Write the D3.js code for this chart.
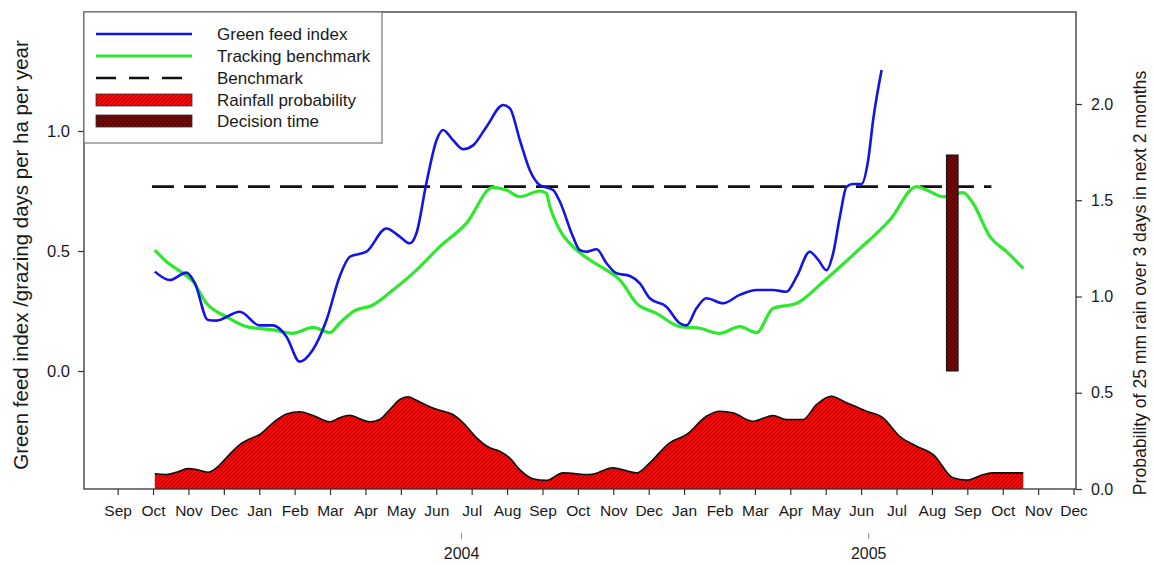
<!DOCTYPE html>
<html><head><meta charset="utf-8">
<script src="https://cdn.jsdelivr.net/npm/d3@7"></script>
<style>
body{margin:0;background:#fff}
svg{display:block}
text{font-family:"Liberation Sans",Arial,Helvetica,sans-serif;fill:#1a1a1a}
</style>
</head><body>
<svg id="chart" width="1154" height="565"></svg>
<script>
// ---- data (x = months since Sep 2003) ----
const monthLabels = ["Sep","Oct","Nov","Dec","Jan","Feb","Mar","Apr","May","Jun","Jul","Aug",
  "Sep","Oct","Nov","Dec","Jan","Feb","Mar","Apr","May","Jun","Jul","Aug","Sep","Oct","Nov","Dec"];
const yearLabels = ["2004","2005"];
const yearPos = [9.7, 21.2];
const leftTicks = [0.0, 0.5, 1.0];
const rightTicks = [0.0, 0.5, 1.0, 1.5, 2.0];

const greenFeedT = [1.05,1.47,1.94,2.18,2.55,2.79,3.45,4.01,4.39,4.77,5.14,5.51,5.90,6.27,6.56,7.03,7.59,7.97,8.25,8.44,8.72,9.01,9.19,9.47,9.76,10.04,10.42,10.89,11.08,11.36,11.64,11.92,12.30,12.49,12.86,13.05,13.24,13.53,13.81,14.09,14.47,14.75,15.03,15.50,15.88,16.07,16.35,16.63,17.10,17.57,18.05,18.51,18.89,19.18,19.55,19.79,20.02,20.21,20.40,20.59,20.77,21.01,21.20,21.34,21.58];
const greenFeedV = [0.414,0.379,0.41,0.367,0.2125,0.21,0.247,0.19,0.19,0.143,0.039,0.0875,0.2125,0.393,0.476,0.497,0.594,0.56,0.532,0.574,0.782,0.9625,1.004,0.9625,0.924,0.94,1.018,1.108,1.094,0.9625,0.8375,0.775,0.754,0.706,0.56,0.504,0.497,0.507,0.449,0.407,0.396,0.365,0.303,0.268,0.199,0.19,0.261,0.303,0.282,0.317,0.3375,0.3375,0.33,0.393,0.497,0.4625,0.42,0.49,0.643,0.768,0.779,0.779,0.879,1.046,1.254];

const trackingT = [1.05,1.38,1.85,2.13,2.51,3.07,3.64,4.39,4.95,5.52,5.99,6.27,6.65,7.21,7.78,8.44,9.10,9.85,10.60,10.98,11.36,11.92,12.11,12.21,12.49,12.86,13.34,13.81,14.19,14.66,15.22,15.88,16.44,17.01,17.57,18.05,18.51,19.18,19.93,20.87,21.81,22.57,22.85,23.32,23.88,24.16,24.64,25.11,25.58];
const trackingV = [0.504,0.455,0.407,0.372,0.282,0.226,0.185,0.171,0.157,0.182,0.16,0.199,0.247,0.275,0.3375,0.42,0.518,0.615,0.765,0.754,0.726,0.75,0.74,0.685,0.5875,0.518,0.4625,0.42,0.379,0.282,0.24,0.185,0.178,0.157,0.185,0.16,0.261,0.282,0.372,0.497,0.629,0.768,0.754,0.726,0.743,0.699,0.56,0.497,0.428];

const benchmarkT = [0.97, 24.68];
const benchmarkV = [0.768, 0.768];

const rainT = [1.05,1.38,1.66,1.99,2.23,2.55,2.79,3.07,3.45,3.73,4.01,4.39,4.77,5.14,5.52,5.99,6.27,6.56,6.84,7.12,7.40,7.69,7.97,8.20,8.44,8.82,9.10,9.47,9.76,10.14,10.51,10.79,11.07,11.36,11.73,12.11,12.58,13.34,13.99,14.66,15.03,15.59,16.07,16.63,17.01,17.38,17.95,18.51,18.89,19.36,19.74,20.16,20.59,21.15,21.62,22.09,22.57,23.04,23.60,23.98,24.45,24.73,25.58];
const rainV = [0.079,0.075,0.087,0.106,0.101,0.087,0.11,0.162,0.231,0.26,0.283,0.344,0.39,0.401,0.382,0.349,0.37,0.383,0.365,0.349,0.361,0.413,0.465,0.479,0.461,0.427,0.409,0.387,0.344,0.266,0.214,0.196,0.162,0.101,0.053,0.045,0.084,0.075,0.11,0.084,0.136,0.24,0.283,0.378,0.404,0.396,0.352,0.382,0.361,0.361,0.439,0.482,0.448,0.404,0.37,0.274,0.222,0.179,0.058,0.046,0.075,0.084,0.084];

const decisionT = [23.41, 23.74];
const decisionV = [0.0, 0.9];

const legendLabels = ["Green feed index","Tracking benchmark","Benchmark","Rainfall probability","Decision time"];

// ---- layout ----
const svg = d3.select("#chart");
const L = 84, R = 1076, T = 12, B = 489;
const x = d3.scaleLinear().domain([-0.95, 27.07]).range([L, R]);
const yL = d3.scaleLinear().domain([-0.4917, 1.4958]).range([B, T]);
const yR = d3.scaleLinear().domain([0, 2.478]).range([B, T]);

const defs = svg.append("defs");
function hatch(id, bg, fg) {
  const p = defs.append("pattern").attr("id", id).attr("patternUnits", "userSpaceOnUse")
    .attr("width", 4).attr("height", 4);
  p.append("rect").attr("width", 4).attr("height", 4).attr("fill", bg);
  p.append("path").attr("d", "M-1,1 l2,-2 M0,4 l4,-4 M3,5 l2,-2")
    .attr("stroke", fg).attr("stroke-width", 0.9);
}
hatch("rainHatch", "#e80c0c", "#a80000");
hatch("decHatch", "#6e0c0c", "#3a0000");

// rainfall area
const rain = rainT.map((t, i) => [t, rainV[i]]);
svg.append("path").datum(rain)
  .attr("d", d3.area().x(d => x(d[0])).y0(yR(0)).y1(d => yR(d[1])).curve(d3.curveMonotoneX))
  .attr("fill", "url(#rainHatch)");
svg.append("path").datum(rain)
  .attr("d", d3.line().x(d => x(d[0])).y(d => yR(d[1])).curve(d3.curveMonotoneX))
  .attr("fill", "none").attr("stroke", "#111").attr("stroke-width", 1.6);

// benchmark
svg.append("path").datum(benchmarkT.map((t, i) => [t, benchmarkV[i]]))
  .attr("d", d3.line().x(d => x(d[0])).y(d => yL(d[1])))
  .attr("fill", "none").attr("stroke", "#111").attr("stroke-width", 2.6)
  .attr("stroke-dasharray", "22,10");

// tracking benchmark
svg.append("path").datum(trackingT.map((t, i) => [t, trackingV[i]]))
  .attr("d", d3.line().x(d => x(d[0])).y(d => yL(d[1])).curve(d3.curveMonotoneX))
  .attr("fill", "none").attr("stroke", "#2ee82e").attr("stroke-width", 3.2)
  .attr("stroke-linejoin", "round");

// green feed index
svg.append("path").datum(greenFeedT.map((t, i) => [t, greenFeedV[i]]))
  .attr("d", d3.line().x(d => x(d[0])).y(d => yL(d[1])).curve(d3.curveMonotoneX))
  .attr("fill", "none").attr("stroke", "#1414e6").attr("stroke-width", 2.6)
  .attr("stroke-linejoin", "round");

// decision time bar
svg.append("rect")
  .attr("x", x(decisionT[0])).attr("width", x(decisionT[1]) - x(decisionT[0]))
  .attr("y", yL(decisionV[1])).attr("height", yL(decisionV[0]) - yL(decisionV[1]))
  .attr("fill", "url(#decHatch)").attr("stroke", "#111").attr("stroke-width", 1);

// frame
svg.append("rect").attr("x", L).attr("y", T).attr("width", R - L).attr("height", B - T)
  .attr("fill", "none").attr("stroke", "#333").attr("stroke-width", 1.3);

// axes
const fmt = d3.format(".1f");
const axL = svg.append("g").attr("transform", `translate(${L},0)`)
  .call(d3.axisLeft(yL).tickValues(leftTicks).tickFormat(fmt).tickSize(6).tickPadding(8));
const axR = svg.append("g").attr("transform", `translate(${R},0)`)
  .call(d3.axisRight(yR).tickValues(rightTicks).tickFormat(fmt).tickSize(6).tickPadding(9));
const axB = svg.append("g").attr("transform", `translate(0,${B})`)
  .call(d3.axisBottom(x).tickValues(d3.range(monthLabels.length)).tickFormat(i => monthLabels[i]).tickSize(6).tickPadding(10));
const axY = svg.append("g").attr("transform", `translate(0,${B + 44})`)
  .call(d3.axisBottom(x).tickValues(yearPos).tickFormat((d, i) => yearLabels[i]).tickSize(6).tickPadding(9));
axY.select(".domain").remove();
[axL, axR, axB].forEach(a => a.select(".domain").remove());
[axL, axR, axB, axY].forEach(a => {
  a.selectAll("line").attr("stroke", "#333").attr("stroke-width", 1.2);
  a.selectAll("text").attr("font-family", '"Liberation Sans",Arial,sans-serif').attr("fill", "#1a1a1a");
});
axL.selectAll("text").attr("font-size", 16.5);
axR.selectAll("text").attr("font-size", 16);
axB.selectAll("text").attr("font-size", 15.5);
axY.selectAll("text").attr("font-size", 16);
axY.selectAll("line").attr("stroke", "#888").attr("stroke-width", 1);

// axis titles
svg.append("text").attr("transform", "translate(28,255) rotate(-90)")
  .attr("text-anchor", "middle").attr("font-size", 20.5)
  .text("Green feed index /grazing days per ha per year");
svg.append("text").attr("transform", "translate(1146,283) rotate(-90)")
  .attr("text-anchor", "middle").attr("font-size", 17.6)
  .text("Probability of 25 mm rain over 3 days in next 2 months");

// legend
const lg = svg.append("g");
lg.append("rect").attr("x", L).attr("y", T).attr("width", 298).attr("height", 131)
  .attr("fill", "#fff").attr("stroke", "#777").attr("stroke-width", 1.2);
const rowY = [34, 56, 78, 100, 121];
const lx0 = 96, lx1 = 192;
lg.append("line").attr("x1", lx0).attr("x2", lx1).attr("y1", rowY[0]).attr("y2", rowY[0])
  .attr("stroke", "#1414e6").attr("stroke-width", 2.6);
lg.append("line").attr("x1", lx0).attr("x2", lx1).attr("y1", rowY[1]).attr("y2", rowY[1])
  .attr("stroke", "#2ee82e").attr("stroke-width", 3.2);
lg.append("line").attr("x1", lx0).attr("x2", lx1).attr("y1", rowY[2]).attr("y2", rowY[2])
  .attr("stroke", "#111").attr("stroke-width", 2.6).attr("stroke-dasharray", "20,13");
lg.append("rect").attr("x", lx0).attr("y", rowY[3] - 6).attr("width", lx1 - lx0).attr("height", 12)
  .attr("fill", "url(#rainHatch)").attr("stroke", "#333").attr("stroke-width", 0.8);
lg.append("rect").attr("x", lx0).attr("y", rowY[4] - 6).attr("width", lx1 - lx0).attr("height", 12)
  .attr("fill", "url(#decHatch)").attr("stroke", "#333").attr("stroke-width", 0.8);
legendLabels.forEach((s, i) => {
  lg.append("text").attr("x", 217).attr("y", rowY[i] + 6).attr("font-size", 17).text(s);
});
</script>
</body></html>
